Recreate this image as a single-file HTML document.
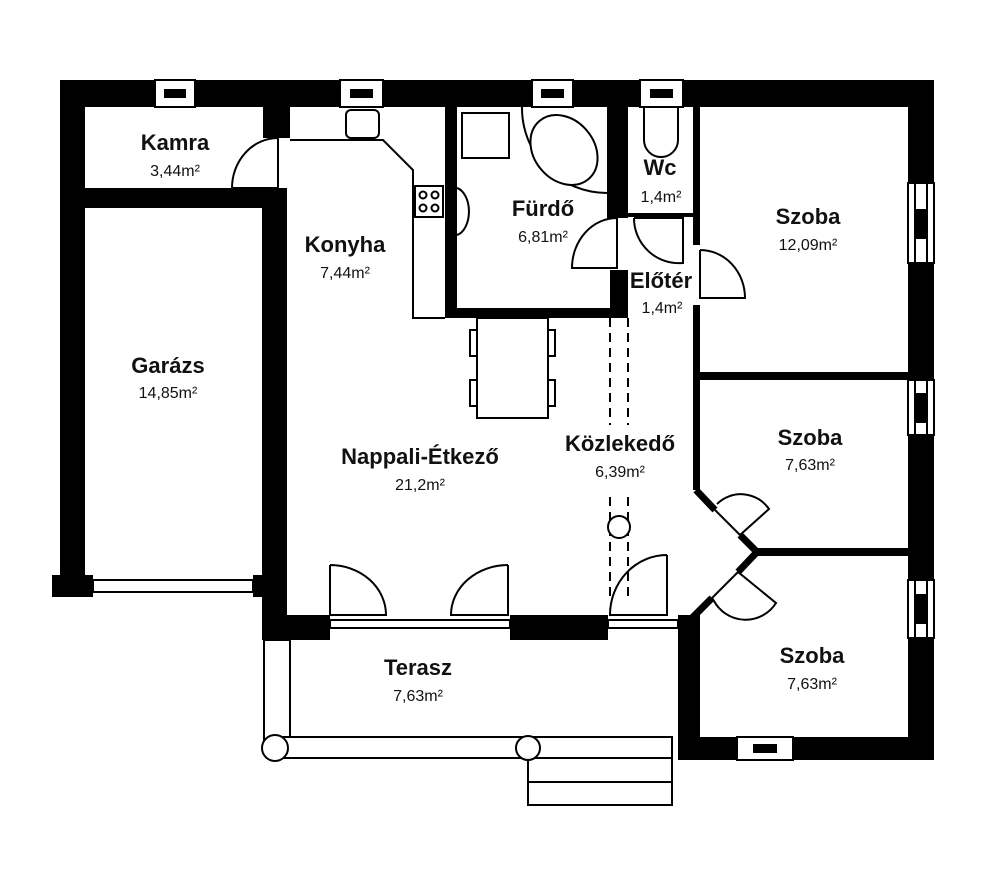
<!DOCTYPE html>
<html><head><meta charset="utf-8"><style>
html,body{margin:0;padding:0;background:#fff;}
svg{display:block}
.t{font-family:"Liberation Sans",sans-serif;font-weight:bold;font-size:22px;text-anchor:middle;fill:#111}
.a{font-family:"Liberation Sans",sans-serif;font-size:16px;text-anchor:middle;fill:#111}
</style></head><body>
<svg width="1000" height="873" viewBox="0 0 1000 873" xmlns="http://www.w3.org/2000/svg">
<g fill="#000">
<rect x="60" y="80" width="874" height="27"/>
<rect x="60" y="80" width="25" height="517"/>
<rect x="52" y="575" width="41" height="22"/>
<rect x="908" y="80" width="26" height="680"/>
<rect x="678" y="737" width="256" height="23"/>
<rect x="85" y="188" width="200" height="20"/>
<rect x="263" y="107" width="27" height="31"/>
<rect x="262" y="188" width="25" height="452"/>
<rect x="253" y="575" width="34" height="22"/>
<rect x="262" y="615" width="68" height="25"/>
<rect x="510" y="615" width="98" height="25"/>
<rect x="678" y="615" width="22" height="145"/>
<rect x="445" y="107" width="12" height="211"/>
<rect x="445" y="308" width="183" height="10"/>
<rect x="607" y="107" width="21" height="111"/>
<rect x="610" y="270" width="18" height="48"/>
<rect x="628" y="213" width="65" height="4"/>
<rect x="693" y="107" width="7" height="138"/>
<rect x="693" y="305" width="7" height="185"/>
<rect x="700" y="372" width="208" height="8"/>
<rect x="757" y="548" width="151" height="8"/>
</g>
<g stroke="#000" stroke-width="7" fill="none">
<line x1="696" y1="490" x2="715" y2="510"/>
<line x1="740" y1="535" x2="757" y2="552"/>
<line x1="757" y1="552" x2="738" y2="572"/>
<line x1="712" y1="598" x2="692" y2="618"/>
</g>
<g stroke="#000" stroke-width="2" fill="#fff">
<rect x="155" y="80" width="40" height="27"/><rect x="165" y="90" width="20" height="7" fill="#000"/>
<rect x="340" y="80" width="43" height="27"/><rect x="351" y="90" width="21" height="7" fill="#000"/>
<rect x="532" y="80" width="41" height="27"/><rect x="542" y="90" width="21" height="7" fill="#000"/>
<rect x="640" y="80" width="43" height="27"/><rect x="651" y="90" width="21" height="7" fill="#000"/>
<rect x="908" y="183" width="26" height="80"/><line x1="915" y1="183" x2="915" y2="263"/><line x1="927" y1="183" x2="927" y2="263"/><rect x="917" y="210" width="8" height="28" fill="#000"/>
<rect x="908" y="380" width="26" height="55"/><line x1="915" y1="380" x2="915" y2="435"/><line x1="927" y1="380" x2="927" y2="435"/><rect x="917" y="394" width="8" height="28" fill="#000"/>
<rect x="908" y="580" width="26" height="58"/><line x1="915" y1="580" x2="915" y2="638"/><line x1="927" y1="580" x2="927" y2="638"/><rect x="917" y="595" width="8" height="28" fill="#000"/>
<rect x="737" y="737" width="56" height="23"/><rect x="754" y="745" width="22" height="7" fill="#000"/>
<rect x="93" y="580" width="160" height="12"/>
<rect x="330" y="620" width="180" height="8"/>
<rect x="608" y="620" width="70" height="8"/>
<rect x="264" y="640" width="26" height="108"/>
<rect x="275" y="737" width="397" height="21"/>
<rect x="528" y="758" width="144" height="24"/>
<rect x="528" y="782" width="144" height="23"/>
<circle cx="275" cy="748" r="13"/>
<circle cx="528" cy="748" r="12"/>
<path d="M290 140 L383 140 L413 170 L413 318 L445 318" fill="none"/>
<rect x="346" y="110" width="33" height="28" rx="5"/>
<rect x="415" y="186" width="28" height="31"/>
<circle cx="423" cy="195" r="3.5"/><circle cx="435" cy="195" r="3.5"/>
<circle cx="423" cy="208" r="3.5"/><circle cx="435" cy="208" r="3.5"/>
<path d="M457 188 A15 24 0 0 1 457 235" fill="none"/>
<rect x="462" y="113" width="47" height="45"/>
<path d="M522 107 A85 85 0 0 0 607 193" fill="none"/>
<ellipse cx="564" cy="150" rx="30" ry="38" transform="rotate(-40 564 150)"/>
<path d="M644 107 L644 140 A17 17 0 0 0 678 140 L678 107" fill="none"/>
<rect x="477" y="318" width="71" height="100"/>
<rect x="470" y="330" width="7" height="26"/><rect x="470" y="380" width="7" height="26"/>
<rect x="548" y="330" width="7" height="26"/><rect x="548" y="380" width="7" height="26"/>
</g>
<g stroke="#000" stroke-width="2" stroke-dasharray="9,6">
<line x1="610" y1="318" x2="610" y2="425"/><line x1="628" y1="318" x2="628" y2="425"/>
<line x1="610" y1="497" x2="610" y2="600"/><line x1="628" y1="497" x2="628" y2="600"/>
</g>
<circle cx="619" cy="527" r="11" stroke="#000" stroke-width="2" fill="#fff"/>
<g stroke="#000" stroke-width="2" fill="none">
<path d="M278 138 L278 188 L232 188 A46 50 0 0 1 278 138"/>
<path d="M617 218 L617 268 L572 268 A45 50 0 0 1 617 218"/>
<path d="M634 218 L683 218 L683 263 A45 45 0 0 1 634 218"/>
<path d="M700 250 L700 298 L745 298 A45 48 0 0 0 700 250"/>
<path d="M330 565 L330 615 L386 615 A56 50 0 0 0 330 565"/>
<path d="M508 565 L508 615 L451 615 A57 50 0 0 1 508 565"/>
<path d="M667 555 L667 615 L610 615 A57 60 0 0 1 667 555"/>
<path d="M715 510 L740 535 L769 509 A34 34 0 0 0 717 504"/>
<path d="M738 572 L712 598 L714 601 A36 36 0 0 0 776 603 Z"/>
</g>
<text class="t" x="175" y="150">Kamra</text><text class="a" x="175" y="176">3,44m²</text>
<text class="t" x="345" y="252">Konyha</text><text class="a" x="345" y="278">7,44m²</text>
<text class="t" x="543" y="216">Fürdő</text><text class="a" x="543" y="242">6,81m²</text>
<text class="t" x="660" y="175">Wc</text><text class="a" x="661" y="202">1,4m²</text>
<text class="t" x="661" y="288">Előtér</text><text class="a" x="662" y="313">1,4m²</text>
<text class="t" x="808" y="224">Szoba</text><text class="a" x="808" y="250">12,09m²</text>
<text class="t" x="168" y="373">Garázs</text><text class="a" x="168" y="398">14,85m²</text>
<text class="t" x="420" y="464">Nappali-Étkező</text><text class="a" x="420" y="490">21,2m²</text>
<text class="t" x="620" y="451">Közlekedő</text><text class="a" x="620" y="477">6,39m²</text>
<text class="t" x="810" y="445">Szoba</text><text class="a" x="810" y="470">7,63m²</text>
<text class="t" x="812" y="663">Szoba</text><text class="a" x="812" y="689">7,63m²</text>
<text class="t" x="418" y="675">Terasz</text><text class="a" x="418" y="701">7,63m²</text>
</svg>
</body></html>
